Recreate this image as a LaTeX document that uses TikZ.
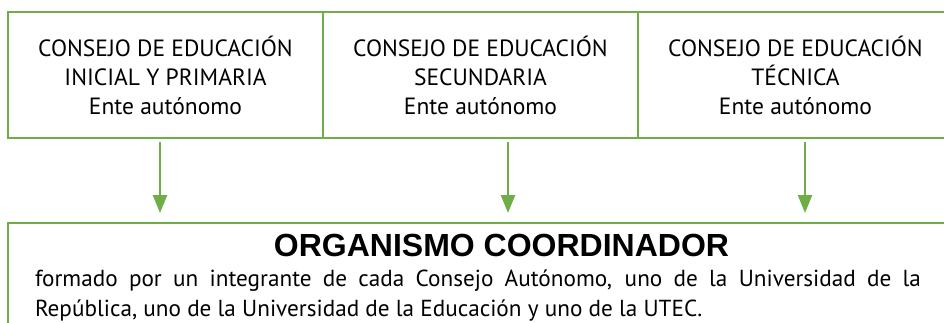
\documentclass[tikz,border=0pt]{standalone}
\usepackage{fontspec}
\setmainfont{PT Sans}
\newfontfamily\titlefont{Liberation Sans}
\usetikzlibrary{arrows.meta, positioning}
\definecolor{verde}{HTML}{70AD47}

\begin{document}
\begin{tikzpicture}[
        x=1pt, y=1pt,
        consejo/.style={draw=verde, line width=2.5pt, outer sep=0pt, align=center, minimum width=315pt, minimum height=126pt, inner sep=0pt, font=\fontsize{23.5}{29}\selectfont},
        organismo/.style={draw=verde, line width=2.5pt, outer sep=0pt, anchor=north west, text width=886pt, align=justify, inner xsep=27pt, inner ysep=11pt, text depth=60pt, font=\fontsize{23.2}{30}\selectfont},
        arrow/.style={-{Triangle[width=14pt, length=18pt]}, verde, line width=2.5pt}
    ]
    \useasboundingbox (0,0) rectangle (944,322);
    \clip (0,0) rectangle (944,322);

    % Nodes
    \node [consejo] (inicial) at (165.5,247) {CONSEJO DE EDUCACIÓN\\ INICIAL Y PRIMARIA\\ Ente autónomo};
    \node [consejo, right=0pt of inicial] (secundaria) {CONSEJO DE EDUCACIÓN\\ SECUNDARIA\\ Ente autónomo};
    \node [consejo, right=0pt of secundaria] (tecnica) {CONSEJO DE EDUCACIÓN\\ TÉCNICA\\ Ente autónomo};
    \node [organismo] (coord) at (8,99) {\makebox[\linewidth]{\hspace{47pt}\titlefont\fontsize{32}{32}\selectfont\bfseries ORGANISMO COORDINADOR}\\ formado por un integrante de cada Consejo Autónomo, uno de la Universidad de la República, uno de la Universidad de la Educación y uno de la UTEC.};

    % Arrows
    \coordinate (a1) at ([xshift=-5.5pt, yshift=-4pt]inicial.south);
    \coordinate (a2) at ([xshift=27.5pt, yshift=-4pt]secundaria.south);
    \coordinate (a3) at ([xshift=9.5pt, yshift=-4pt]tecnica.south);
    \draw[arrow, shorten >=10pt] (a1) -- (a1 |- coord.north);
    \draw[arrow, shorten >=10pt] (a2) -- (a2 |- coord.north);
    \draw[arrow, shorten >=10pt] (a3) -- (a3 |- coord.north);

\end{tikzpicture}
\end{document}
